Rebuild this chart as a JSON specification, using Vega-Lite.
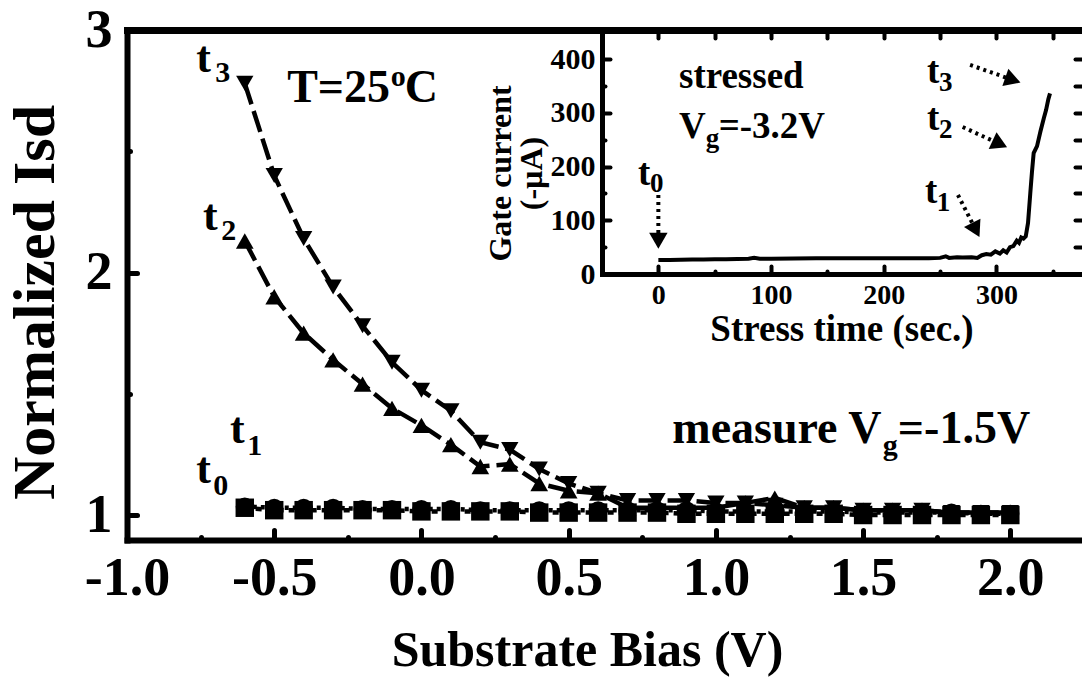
{
  "$schema": "https://vega.github.io/schema/vega-lite/v6.json",
  "width": 954,
  "height": 510,
  "autosize": {"type": "none"},
  "padding": {"left": 127, "top": 30, "right": 1, "bottom": 142},
  "background": "white",
  "config": {
    "view": {"stroke": null},
    "font": "Liberation Serif",
    "axis": {"labelFont": "Liberation Serif", "titleFont": "Liberation Serif", "labelFontWeight": "bold", "titleFontWeight": "bold", "labelColor": "black", "titleColor": "black", "domainColor": "black", "tickColor": "black", "grid": false, "labelOverlap": false, "labelFlush": false, "tickCap": "round", "domainCap": "square"},
    "text": {"font": "Liberation Serif", "fontWeight": "bold", "color": "black", "align": "left", "baseline": "alphabetic"}
  },
  "datasets": {
    "curves": [
      {"series":"t0","bias":-0.6,"isd":1.03},{"series":"t0","bias":-0.5,"isd":1.02},{"series":"t0","bias":-0.4,"isd":1.02},{"series":"t0","bias":-0.3,"isd":1.02},{"series":"t0","bias":-0.2,"isd":1.02},{"series":"t0","bias":-0.1,"isd":1.02},{"series":"t0","bias":0.0,"isd":1.015},{"series":"t0","bias":0.1,"isd":1.015},{"series":"t0","bias":0.2,"isd":1.015},{"series":"t0","bias":0.3,"isd":1.015},{"series":"t0","bias":0.4,"isd":1.01},{"series":"t0","bias":0.5,"isd":1.01},{"series":"t0","bias":0.6,"isd":1.01},{"series":"t0","bias":0.7,"isd":1.01},{"series":"t0","bias":0.8,"isd":1.01},{"series":"t0","bias":0.9,"isd":1.005},{"series":"t0","bias":1.0,"isd":1.005},{"series":"t0","bias":1.1,"isd":1.005},{"series":"t0","bias":1.2,"isd":1.005},{"series":"t0","bias":1.3,"isd":1.005},{"series":"t0","bias":1.4,"isd":1.005},{"series":"t0","bias":1.5,"isd":1.0},{"series":"t0","bias":1.6,"isd":1.0},{"series":"t0","bias":1.7,"isd":1.0},{"series":"t0","bias":1.8,"isd":1.0},{"series":"t0","bias":1.9,"isd":1.0},{"series":"t0","bias":2.0,"isd":1.0},
      {"series":"t1","bias":-0.6,"isd":1.035},{"series":"t1","bias":-0.5,"isd":1.03},{"series":"t1","bias":-0.4,"isd":1.03},{"series":"t1","bias":-0.3,"isd":1.03},{"series":"t1","bias":-0.2,"isd":1.025},{"series":"t1","bias":-0.1,"isd":1.025},{"series":"t1","bias":0.0,"isd":1.025},{"series":"t1","bias":0.1,"isd":1.025},{"series":"t1","bias":0.2,"isd":1.02},{"series":"t1","bias":0.3,"isd":1.02},{"series":"t1","bias":0.4,"isd":1.02},{"series":"t1","bias":0.5,"isd":1.02},{"series":"t1","bias":0.6,"isd":1.02},{"series":"t1","bias":0.7,"isd":1.02},{"series":"t1","bias":0.8,"isd":1.02},{"series":"t1","bias":0.9,"isd":1.02},{"series":"t1","bias":1.0,"isd":1.015},{"series":"t1","bias":1.1,"isd":1.015},{"series":"t1","bias":1.2,"isd":1.015},{"series":"t1","bias":1.3,"isd":1.015},{"series":"t1","bias":1.4,"isd":1.015},{"series":"t1","bias":1.5,"isd":1.01},{"series":"t1","bias":1.6,"isd":1.01},{"series":"t1","bias":1.7,"isd":1.01},{"series":"t1","bias":1.8,"isd":1.01},{"series":"t1","bias":1.9,"isd":1.005},{"series":"t1","bias":2.0,"isd":1.005},
      {"series":"t2","bias":-0.6,"isd":2.13},{"series":"t2","bias":-0.5,"isd":1.90},{"series":"t2","bias":-0.4,"isd":1.75},{"series":"t2","bias":-0.3,"isd":1.64},{"series":"t2","bias":-0.2,"isd":1.54},{"series":"t2","bias":-0.1,"isd":1.44},{"series":"t2","bias":0.0,"isd":1.37},{"series":"t2","bias":0.1,"isd":1.29},{"series":"t2","bias":0.2,"isd":1.20},{"series":"t2","bias":0.3,"isd":1.21},{"series":"t2","bias":0.4,"isd":1.13},{"series":"t2","bias":0.5,"isd":1.10},{"series":"t2","bias":0.6,"isd":1.09},{"series":"t2","bias":0.7,"isd":1.03},{"series":"t2","bias":0.8,"isd":1.03},{"series":"t2","bias":0.9,"isd":1.03},{"series":"t2","bias":1.0,"isd":1.03},{"series":"t2","bias":1.1,"isd":1.05},{"series":"t2","bias":1.2,"isd":1.07},{"series":"t2","bias":1.3,"isd":1.03},{"series":"t2","bias":1.4,"isd":1.03},{"series":"t2","bias":1.5,"isd":1.02},{"series":"t2","bias":1.6,"isd":1.02},{"series":"t2","bias":1.7,"isd":1.02},{"series":"t2","bias":1.8,"isd":1.01},{"series":"t2","bias":1.9,"isd":1.01},{"series":"t2","bias":2.0,"isd":1.01},
      {"series":"t3","bias":-0.6,"isd":2.78},{"series":"t3","bias":-0.5,"isd":2.40},{"series":"t3","bias":-0.4,"isd":2.14},{"series":"t3","bias":-0.3,"isd":1.94},{"series":"t3","bias":-0.2,"isd":1.78},{"series":"t3","bias":-0.1,"isd":1.63},{"series":"t3","bias":0.0,"isd":1.515},{"series":"t3","bias":0.1,"isd":1.43},{"series":"t3","bias":0.2,"isd":1.30},{"series":"t3","bias":0.3,"isd":1.27},{"series":"t3","bias":0.4,"isd":1.19},{"series":"t3","bias":0.5,"isd":1.13},{"series":"t3","bias":0.6,"isd":1.09},{"series":"t3","bias":0.7,"isd":1.06},{"series":"t3","bias":0.8,"isd":1.06},{"series":"t3","bias":0.9,"isd":1.06},{"series":"t3","bias":1.0,"isd":1.05},{"series":"t3","bias":1.1,"isd":1.05},{"series":"t3","bias":1.2,"isd":1.04},{"series":"t3","bias":1.3,"isd":1.03},{"series":"t3","bias":1.4,"isd":1.03},{"series":"t3","bias":1.5,"isd":1.02},{"series":"t3","bias":1.6,"isd":1.02},{"series":"t3","bias":1.7,"isd":1.02},{"series":"t3","bias":1.8,"isd":1.01},{"series":"t3","bias":1.9,"isd":1.01},{"series":"t3","bias":2.0,"isd":1.01}
    ],
    "mainBig": [
      {"text":"t","x":-0.765,"y":2.827},{"text":"t","x":-0.742,"y":2.175},{"text":"t","x":-0.650,"y":1.297},{"text":"t","x":-0.765,"y":1.132}
    ],
    "mainNotes": [
      {"text":"T=25","x":-0.456,"y":2.703},{"text":"C","x":-0.057,"y":2.703},{"text":"measure V","x":0.852,"y":1.297},{"text":"=-1.5V","x":1.618,"y":1.297}
    ],
    "mainSmall": [
      {"text":"3","x":-0.700,"y":2.786},{"text":"2","x":-0.680,"y":2.134},{"text":"1","x":-0.592,"y":1.247},{"text":"0","x":-0.707,"y":1.082},{"text":"o","x":-0.104,"y":2.769},{"text":"g","x":1.567,"y":1.247}
    ],
    "gate": [
      {"time":0,"current":26},{"time":10,"current":26},{"time":20,"current":26.5},{"time":30,"current":27},{"time":40,"current":27},{"time":50,"current":27.5},{"time":60,"current":27.5},{"time":70,"current":28},{"time":80,"current":28.5},{"time":85,"current":30},{"time":90,"current":28.5},{"time":100,"current":28.5},{"time":120,"current":29},{"time":140,"current":29.5},{"time":160,"current":29.5},{"time":180,"current":29.5},{"time":200,"current":29.5},{"time":220,"current":29.5},{"time":240,"current":29.5},{"time":250,"current":30},{"time":255,"current":33},{"time":258,"current":30},{"time":265,"current":31},{"time":270,"current":30.5},{"time":278,"current":31},{"time":283,"current":30},{"time":287,"current":35},{"time":291,"current":37},{"time":295,"current":36},{"time":299,"current":42},{"time":303,"current":38},{"time":306,"current":44},{"time":309,"current":40},{"time":312,"current":50},{"time":315,"current":52},{"time":318,"current":62},{"time":320,"current":58},{"time":322,"current":68},{"time":324,"current":66},{"time":326,"current":70},{"time":328,"current":95},{"time":330,"current":150},{"time":331.5,"current":190},{"time":333,"current":225},{"time":336,"current":238},{"time":339,"current":265},{"time":342,"current":290},{"time":344,"current":305},{"time":346,"current":325},{"time":347.5,"current":336}
    ],
    "arrows": [
      {"arrow":"t0","x":0,"y":147,"x2":0,"y2":62},
      {"arrow":"t1","x":265.8,"y":147,"x2":281.7,"y2":81.9},
      {"arrow":"t2","x":270,"y":273.5,"x2":303,"y2":241.9},
      {"arrow":"t3","x":276.6,"y":389,"x2":314.6,"y2":361}
    ],
    "insetBig": [
      {"text":"stressed","x":18.3,"y":346},{"text":"V","x":18.3,"y":253},{"text":"=-3.2V","x":53.5,"y":253},{"text":"t","x":-18.1,"y":165.6},{"text":"t","x":236.5,"y":132},{"text":"t","x":238.3,"y":268},{"text":"t","x":238.3,"y":355}
    ],
    "insetSmall": [
      {"text":"g","x":42,"y":236},{"text":"0","x":-7.5,"y":152.6},{"text":"1","x":247,"y":117},{"text":"2","x":249,"y":253},{"text":"3","x":249,"y":340}
    ]
  },
  "layer": [
    {
      "layer": [
        {
          "data": {"name": "curves"},
          "mark": {"type": "line", "strokeWidth": 4.5, "color": "black"},
          "encoding": {
            "x": {"field": "bias", "type": "quantitative", "scale": {"domain": [-1, 2.24], "nice": false, "zero": false},
              "axis": {"orient": "bottom", "values": [-1,-0.75,-0.5,-0.25,0,0.25,0.5,0.75,1,1.25,1.5,1.75,2],
                "labelExpr": "abs(datum.value*2 - round(datum.value*2)) < 0.001 ? (datum.value < 0 ? '-' : '') + format(abs(datum.value), '.1f') : ''",
                "tickSize": {"condition": {"test": "abs(datum.value*2 - round(datum.value*2)) < 0.001", "value": -10}, "value": -3},
                "tickWidth": 5, "domainWidth": 6, "labelFontSize": 54, "labelPadding": 21,
                "title": "Substrate Bias (V)", "titleFontSize": 50, "titleX": 460, "titleY": 125, "titleBaseline": "alphabetic", "titleAlign": "center"}},
            "y": {"field": "isd", "type": "quantitative", "scale": {"domain": [0.897, 3], "nice": false, "zero": false},
              "axis": {"orient": "left", "values": [1,1.5,2,2.5,3],
                "labelExpr": "datum.value % 1 == 0 ? format(datum.value, 'd') : ''",
                "tickSize": {"condition": {"test": "datum.value % 1 == 0", "value": -10}, "value": -3},
                "tickWidth": 5, "domainWidth": 6, "labelFontSize": 54, "labelPadding": 25,
                "title": "Normalized Isd", "titleFontSize": 60, "titleX": -74, "titleY": 272, "titleBaseline": "alphabetic", "titleAlign": "center"}},
            "detail": {"field": "series"},
            "strokeDash": {"field": "series", "type": "nominal", "scale": {"domain": ["t0","t1","t2","t3"], "range": [[6,5],[4,4],[22,7],[22,7]]}, "legend": null}
          }
        },
        {
          "data": {"name": "curves"},
          "mark": {"type": "point", "filled": true, "opacity": 1, "color": "black"},
          "encoding": {
            "x": {"field": "bias", "type": "quantitative", "axis": {"orient": "top", "labels": false, "ticks": false, "domainWidth": 7, "title": null}},
            "y": {"field": "isd", "type": "quantitative", "axis": null},
            "shape": {"field": "series", "type": "nominal", "scale": {"domain": ["t0","t1","t2","t3"], "range": ["square","circle","triangle-up","triangle-down"]}, "legend": null},
            "size": {"field": "series", "type": "ordinal", "scale": {"domain": ["t0","t1","t2","t3"], "range": [340, 300, 760, 760]}, "legend": null}
          }
        },
        {
          "data": {"name": "mainBig"},
          "mark": {"type": "text", "fontSize": 44},
          "encoding": {
            "x": {"field": "x", "type": "quantitative", "axis": null},
            "y": {"field": "y", "type": "quantitative", "axis": null},
            "text": {"field": "text"}
          }
        },
        {
          "data": {"name": "mainNotes"},
          "mark": {"type": "text", "fontSize": 46},
          "encoding": {
            "x": {"field": "x", "type": "quantitative", "axis": null},
            "y": {"field": "y", "type": "quantitative", "axis": null},
            "text": {"field": "text"}
          }
        },
        {
          "data": {"name": "mainSmall"},
          "mark": {"type": "text", "fontSize": 30},
          "encoding": {
            "x": {"field": "x", "type": "quantitative", "axis": null},
            "y": {"field": "y", "type": "quantitative", "axis": null},
            "text": {"field": "text"}
          }
        }
      ],
      "resolve": {"axis": {"x": "independent", "y": "independent"}}
    },
    {
      "layer": [
        {
          "data": {"name": "gate"},
          "mark": {"type": "line", "strokeWidth": 4, "color": "black"},
          "encoding": {
            "x": {"field": "time", "type": "quantitative", "scale": {"domain": [-50, 375], "range": [475, 954], "nice": false, "zero": false},
              "axis": {"orient": "bottom", "offset": -266, "values": [0,50,100,150,200,250,300,350],
                "labelExpr": "datum.value % 100 == 0 ? format(datum.value, 'd') : ''",
                "tickSize": {"condition": {"test": "datum.value % 100 == 0", "value": -8}, "value": -3},
                "tickWidth": 4, "domainWidth": 5, "labelFontSize": 28, "labelPadding": 15,
                "title": "Stress time (sec.)", "titleFontSize": 37, "titleY": 66, "titleBaseline": "alphabetic"}},
            "y": {"field": "current", "type": "quantitative", "scale": {"domain": [0, 454], "range": [244, 0], "nice": false, "zero": false},
              "axis": {"orient": "left", "offset": -475, "values": [0,50,100,150,200,250,300,350,400],
                "labelExpr": "datum.value % 100 == 0 ? format(datum.value, 'd') : ''",
                "tickSize": {"condition": {"test": "datum.value % 100 == 0", "value": -8}, "value": -3},
                "tickWidth": 4, "domainWidth": 5, "labelFontSize": 30, "labelPadding": 15,
                "title": ["Gate current", "(-µA)"], "titleFontSize": 32, "titleLineHeight": 31, "titleX": -92, "titleY": 143, "titleBaseline": "alphabetic", "titleAlign": "center"}}
          }
        },
        {
          "data": {"name": "arrows"},
          "mark": {"type": "rule", "strokeWidth": 4, "strokeDash": [3, 4], "color": "black"},
          "encoding": {
            "x": {"field": "x", "type": "quantitative", "axis": {"orient": "top", "values": [0,50,100,150,200,250,300,350], "labels": false, "domain": false, "tickSize": -8, "tickWidth": 4, "title": null}},
            "y": {"field": "y", "type": "quantitative", "axis": {"orient": "right", "values": [50,100,150,200,250,300,350,400], "labels": false, "domain": false, "tickSize": -6, "tickWidth": 4, "title": null}},
            "x2": {"field": "x2"},
            "y2": {"field": "y2"}
          }
        },
        {
          "data": {"name": "arrows"},
          "transform": [{"filter": "datum.arrow == 't0'"}],
          "mark": {"type": "point", "shape": "triangle-right", "angle": 90, "filled": true, "size": 340, "opacity": 1, "color": "black"},
          "encoding": {
            "x": {"field": "x2", "type": "quantitative", "axis": null},
            "y": {"field": "y2", "type": "quantitative", "axis": null}
          }
        },
        {
          "data": {"name": "arrows"},
          "transform": [{"filter": "datum.arrow == 't1'"}],
          "mark": {"type": "point", "shape": "triangle-right", "angle": 63, "filled": true, "size": 340, "opacity": 1, "color": "black"},
          "encoding": {
            "x": {"field": "x2", "type": "quantitative", "axis": null},
            "y": {"field": "y2", "type": "quantitative", "axis": null}
          }
        },
        {
          "data": {"name": "arrows"},
          "transform": [{"filter": "datum.arrow == 't2'"}],
          "mark": {"type": "point", "shape": "triangle-right", "angle": 25, "filled": true, "size": 340, "opacity": 1, "color": "black"},
          "encoding": {
            "x": {"field": "x2", "type": "quantitative", "axis": null},
            "y": {"field": "y2", "type": "quantitative", "axis": null}
          }
        },
        {
          "data": {"name": "arrows"},
          "transform": [{"filter": "datum.arrow == 't3'"}],
          "mark": {"type": "point", "shape": "triangle-right", "angle": 19, "filled": true, "size": 340, "opacity": 1, "color": "black"},
          "encoding": {
            "x": {"field": "x2", "type": "quantitative", "axis": null},
            "y": {"field": "y2", "type": "quantitative", "axis": null}
          }
        },
        {
          "data": {"name": "insetBig"},
          "mark": {"type": "text", "fontSize": 37},
          "encoding": {
            "x": {"field": "x", "type": "quantitative", "axis": null},
            "y": {"field": "y", "type": "quantitative", "axis": null},
            "text": {"field": "text"}
          }
        },
        {
          "data": {"name": "insetSmall"},
          "mark": {"type": "text", "fontSize": 27},
          "encoding": {
            "x": {"field": "x", "type": "quantitative", "axis": null},
            "y": {"field": "y", "type": "quantitative", "axis": null},
            "text": {"field": "text"}
          }
        }
      ],
      "resolve": {"axis": {"x": "independent", "y": "independent"}}
    }
  ],
  "resolve": {"scale": {"x": "independent", "y": "independent"}}
}
